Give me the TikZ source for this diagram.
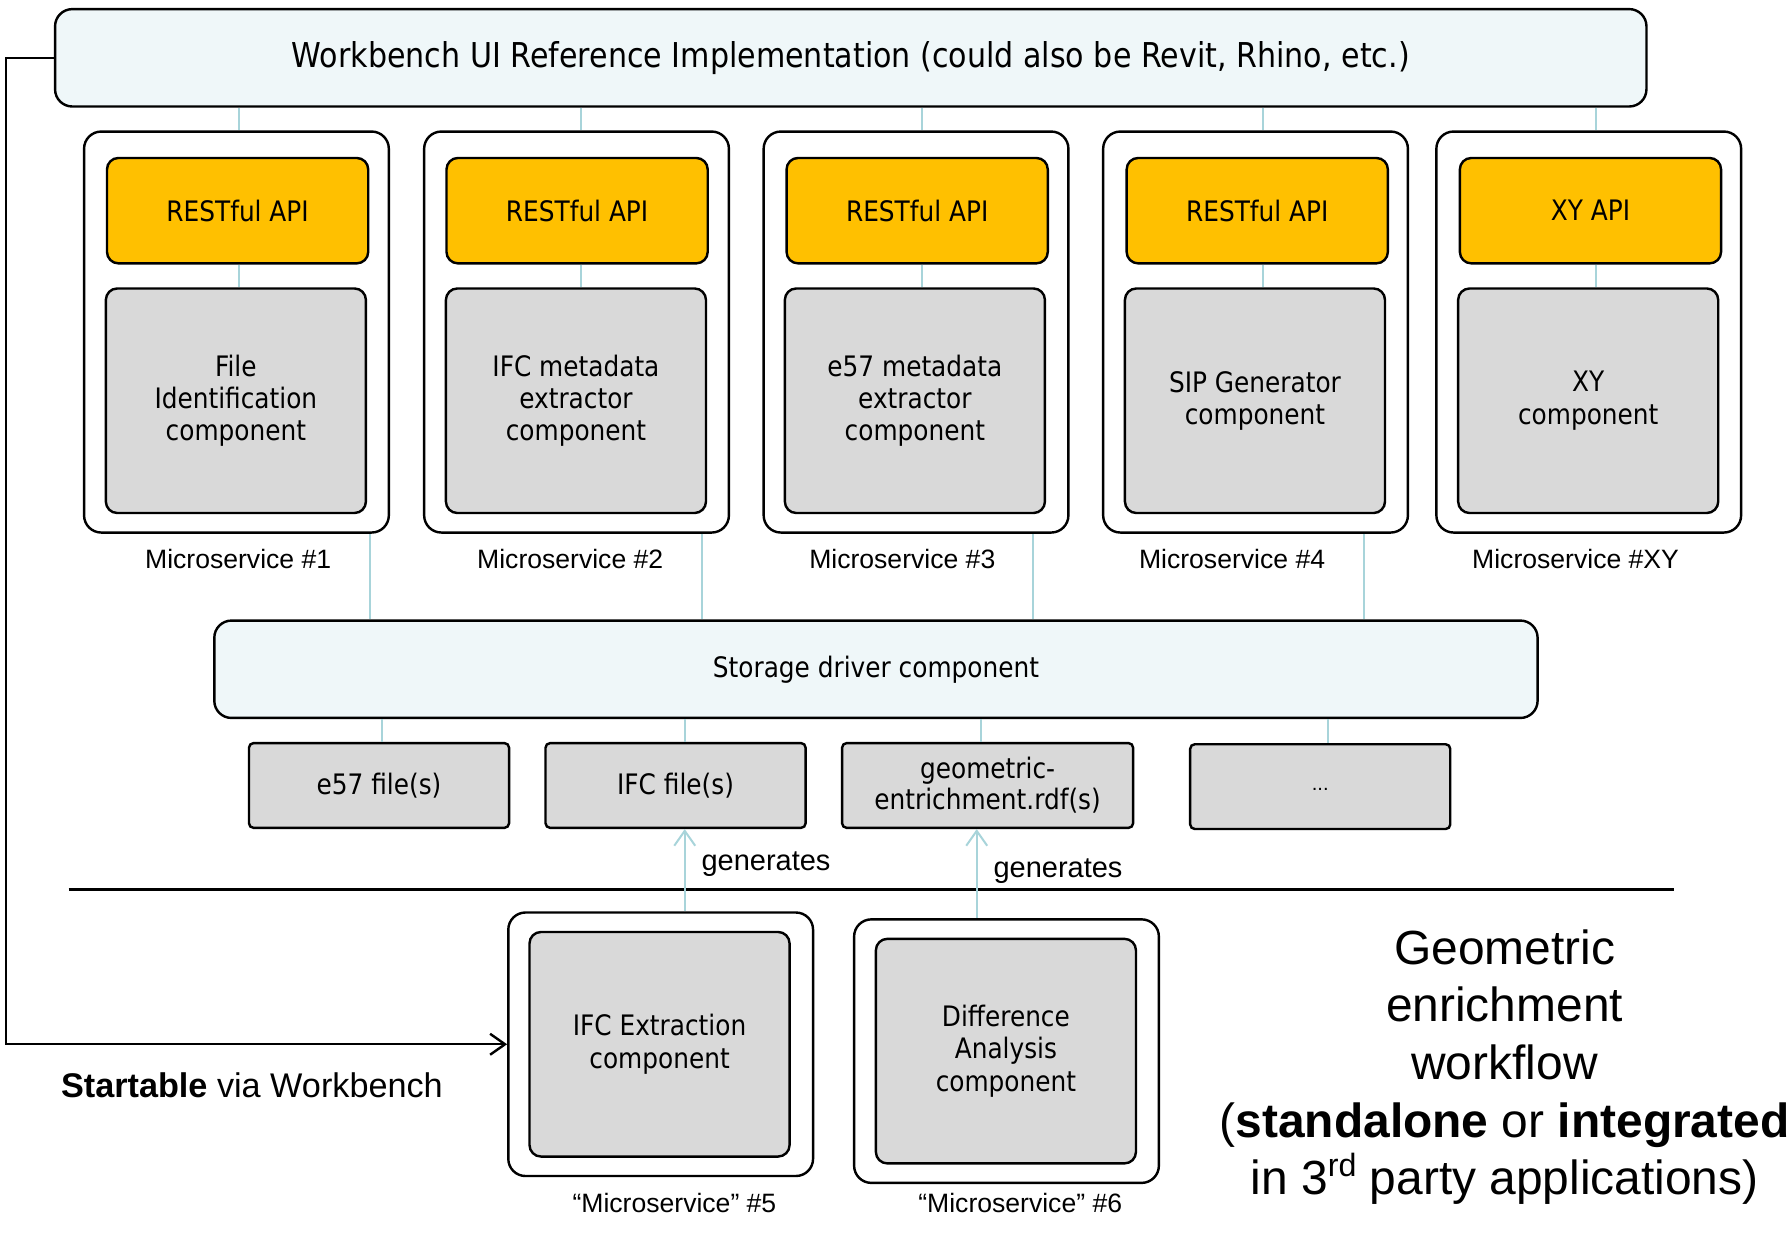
\documentclass[tikz,border=0pt]{standalone}
\usepackage{fontspec}
\setmainfont{Liberation Sans}
\newfontfamily\boxfont{DejaVu Sans}[FakeStretch=0.88]
\usetikzlibrary{positioning,arrows.meta,calc}

\definecolor{paleblue}{RGB}{239,247,249}
\definecolor{apiorange}{RGB}{255,192,0}
\definecolor{compgray}{RGB}{217,217,217}
\definecolor{linkblue}{RGB}{168,212,218}

\tikzset{
  wide/.style={draw=black, line width=0.6pt, fill=paleblue, rounded corners=0.15cm,
    font=\boxfont\fontsize{7}{8.4}\selectfont},
  service/.style={draw=black, line width=0.6pt, fill=white, rounded corners=0.15cm,
    minimum width=2.66cm, minimum height=3.5cm},
  api/.style={draw=black, line width=0.6pt, fill=apiorange, rounded corners=0.1cm,
    minimum width=2.28cm, minimum height=0.92cm, font=\boxfont\fontsize{7}{8.2}\selectfont},
  comp/.style={draw=black, line width=0.6pt, fill=compgray, rounded corners=0.1cm,
    minimum width=2.27cm, minimum height=1.96cm, align=center,
    font=\boxfont\fontsize{7}{8}\selectfont},
  filebox/.style={draw=black, line width=0.6pt, fill=compgray, rounded corners=0.04cm,
    minimum width=2.27cm, minimum height=0.74cm, align=center,
    font=\boxfont\fontsize{7}{7.7}\selectfont},
  mslabel/.style={font=\fontsize{6.6}{8}\selectfont},
  link/.style={draw=linkblue, line width=0.5pt},
  gen/.style={link, -{Straight Barb[length=3.7pt,width=5.2pt]}}
}

\begin{document}
\begin{tikzpicture}[x=0.01cm, y=-0.01cm]
    \useasboundingbox (0,0) rectangle (1565,1077);

    % the workbench on top
    \node[wide, minimum width=13.89cm, minimum height=0.85cm,
      font=\boxfont\fontsize{8.5}{10}\selectfont] (wb) at (743,50.5)
      {Workbench UI Reference Implementation (could also be Revit, Rhino, etc.)};

    % the microservices (outer frames)
    \node[service] (ms1) at (206.5,290) {};
    \node[service] (ms2) at (503.5,290) {};
    \node[service] (ms3) at (800,290) {};
    \node[service] (ms4) at (1096.5,290) {};
    \node[service] (msxy) at (1387.5,290) {};

    % the apis
    \node[api] (api1) at (207.5,184) {RESTful API};
    \node[api] (api2) at (504,184) {RESTful API};
    \node[api] (api3) at (801,184) {RESTful API};
    \node[api] (api4) at (1098,184) {RESTful API};
    \node[api] (apixy) at (1389,184) {XY API};

    % the components
    \node[comp] (comp1) at (206,350) {File\\Identification\\component};
    \node[comp] (comp2) at (503,350) {IFC metadata\\extractor\\component};
    \node[comp] (comp3) at (799,350) {e57 metadata\\extractor\\component};
    \node[comp] (comp4) at (1096,350) {SIP Generator\\component};
    \node[comp] (compxy) at (1387,350) {XY\\component};

    % the names below
    \node[mslabel] (l1) at (208,488) {Microservice \#1};
    \node[mslabel] (l2) at (498,488) {Microservice \#2};
    \node[mslabel] (l3) at (788,488) {Microservice \#3};
    \node[mslabel] (l4) at (1076,488) {Microservice \#4};
    \node[mslabel] (lxy) at (1376,488) {Microservice \#XY};

    % storage and files
    \node[wide, minimum width=11.55cm, minimum height=0.85cm] (st) at (765,584.5)
      {Storage driver component};
    \node[filebox] (f1) at (331,686) {e57 file(s)};
    \node[filebox] (f2) at (590,686) {IFC file(s)};
    \node[filebox, minimum width=2.54cm] (f3) at (862.5,686) {geometric-\\entrichment.rdf(s)};
    \node[filebox, font=\fontsize{5}{6}\selectfont] (f4) at (1153,687) {\raisebox{-2pt}{...}};

    % the standalone services
    \node[service, minimum height=2.3cm] (ms5) at (577,912) {};
    \node[comp] (comp5) at (576,912) {IFC Extraction\\component};
    \node[service, minimum height=2.3cm] (ms6) at (879,918) {};
    \node[comp] (comp6) at (878.5,918) {Difference\\Analysis\\component};
    \node[mslabel] (l5) at (589,1051) {``Microservice'' \#5};
    \node[mslabel] (l6) at (891,1051) {``Microservice'' \#6};

    % the texts
    \node[font=\fontsize{8.5}{10}\selectfont] (start) at (220,948)
      {\textbf{Startable} via Workbench};
    \node[align=center, font=\fontsize{11.9}{14.3}\selectfont] (title) at (1314,932)
      {Geometric\\enrichment\\workflow\\(\textbf{standalone} or \textbf{integrated}\\in 3{\fontsize{8}{8}\selectfont\raisebox{4.5pt}{rd}} party applications)};
    \node[mslabel, font=\fontsize{7.2}{8}\selectfont] (g1) at (669,755) {generates};
    \node[mslabel, font=\fontsize{7.2}{8}\selectfont] (g2) at (924,761) {generates};

    % draw the links
    \draw[link] (wb.south -| 209,0) -- (ms1.north -| 209,0);
    \draw[link] (wb.south -| 507,0) -- (ms2.north -| 507,0);
    \draw[link] (wb.south -| 805,0) -- (ms3.north -| 805,0);
    \draw[link] (wb.south -| 1103,0) -- (ms4.north -| 1103,0);
    \draw[link] (wb.south -| 1394,0) -- (msxy.north -| 1394,0);
    \draw[link] (api1.south -| 209,0) -- (comp1.north -| 209,0);
    \draw[link] (api2.south -| 507,0) -- (comp2.north -| 507,0);
    \draw[link] (api3.south -| 805,0) -- (comp3.north -| 805,0);
    \draw[link] (api4.south -| 1103,0) -- (comp4.north -| 1103,0);
    \draw[link] (apixy.south -| 1394,0) -- (compxy.north -| 1394,0);
    \draw[link] (ms1.south -| 323,0) -- (st.north -| 323,0);
    \draw[link] (ms2.south -| 613,0) -- (st.north -| 613,0);
    \draw[link] (ms3.south -| 902,0) -- (st.north -| 902,0);
    \draw[link] (ms4.south -| 1191,0) -- (st.north -| 1191,0);
    \draw[link] (st.south -| 334,0) -- (f1.north -| 334,0);
    \draw[link] (st.south -| 598,0) -- (f2.north -| 598,0);
    \draw[link] (st.south -| 857,0) -- (f3.north -| 857,0);
    \draw[link] (st.south -| 1160,0) -- (f4.north -| 1160,0);

    % the separating line
    \draw[line width=0.75pt] (60,777) -- (1462,777);

    % draw the arrows
    \draw[gen] (ms5.north -| 598,0) -- (f2.south -| 598,0);
    \draw[gen] (ms6.north -| 853,0) -- (f3.south -| 853,0);
    \draw[line width=0.6pt, -{Straight Barb[length=3.7pt,width=5.2pt]}]
      (wb.west) -- (5,50.5) |- (ms5.west);
\end{tikzpicture}
\end{document}
